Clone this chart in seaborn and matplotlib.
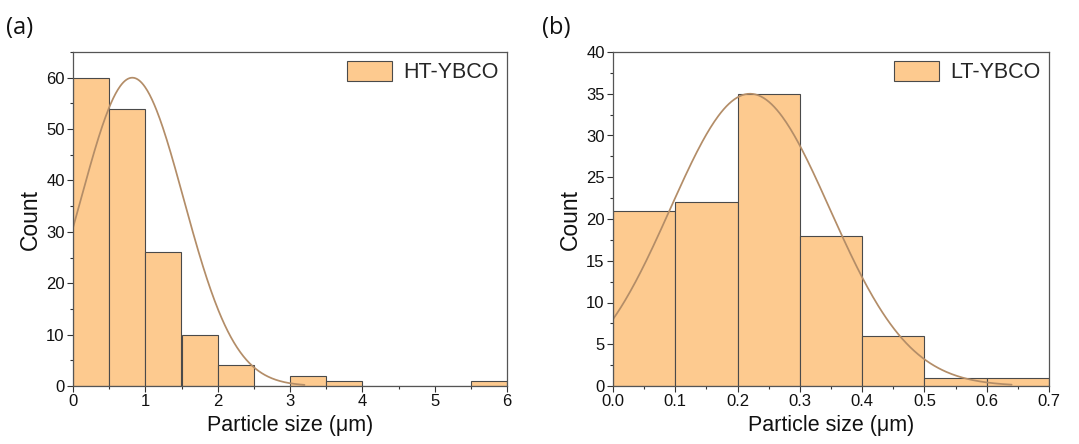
import numpy as np
import pandas as pd
import matplotlib
matplotlib.use("Agg")
import matplotlib.pyplot as plt
from matplotlib.ticker import MultipleLocator, FormatStrFormatter
import seaborn as sns

sns.set_theme(style="white")
plt.rcParams["font.family"] = ["Liberation Sans", "DejaVu Sans"]

# Particle-size histograms (bin edges in µm, counts per bin)
ht_edges = [0, 0.5, 1.0, 1.5, 2.0, 2.5, 3.0, 3.5, 4.0, 4.5, 5.0, 5.5, 6.0]
ht_counts = [60, 54, 26, 10, 4, 0, 2, 1, 0, 0, 0, 1]
lt_edges = [0.0, 0.1, 0.2, 0.3, 0.4, 0.5, 0.6, 0.7]
lt_counts = [21, 22, 35, 18, 6, 1, 1]

# Gaussian fits: amplitude, centre, width, curve extent
ht_fit = dict(amp=60, mu=0.82, sigma=0.71, xmax=3.2)
lt_fit = dict(amp=35, mu=0.22, sigma=0.128, xmax=0.64)

fill_color = "#FDCA8F"
edge_color = "#4a4a4a"
curve_color = "#B38D68"


def panel(ax, edges, counts, fit, label, tag, tag_x, xlim, ylim, xmajor,
          xminor, ymajor, yminor, xfmt):
    e = np.asarray(edges, dtype=float)
    centers = (e[:-1] + e[1:]) / 2
    df = pd.DataFrame({"size": centers, "count": counts})
    sns.histplot(data=df, x="size", weights="count", bins=list(edges), ax=ax,
                 color=fill_color, alpha=1.0, edgecolor=edge_color,
                 linewidth=0.8, label=label)
    xs = np.linspace(0, fit["xmax"], 300)
    ys = fit["amp"] * np.exp(-((xs - fit["mu"]) ** 2) / (2 * fit["sigma"] ** 2))
    sns.lineplot(x=xs, y=ys, ax=ax, color=curve_color, linewidth=1.25)

    ax.set_xlim(*xlim)
    ax.set_ylim(*ylim)
    ax.xaxis.set_major_locator(MultipleLocator(xmajor))
    ax.xaxis.set_minor_locator(MultipleLocator(xminor))
    ax.yaxis.set_major_locator(MultipleLocator(ymajor))
    ax.yaxis.set_minor_locator(MultipleLocator(yminor))
    ax.xaxis.set_major_formatter(xfmt)
    ax.tick_params(axis="both", which="major", direction="out", length=4,
                   width=0.8, color="#333333", labelsize=12, pad=2,
                   bottom=True, left=True, top=False, right=False,
                   labelcolor="#111111")
    ax.tick_params(axis="both", which="minor", direction="out", length=2.5,
                   width=0.8, color="#333333", bottom=True, left=True,
                   top=False, right=False)
    for sp in ax.spines.values():
        sp.set_color("#555555")
        sp.set_linewidth(0.9)
    ax.set_xlabel("Particle size (\u03bcm)", fontsize=15.5, labelpad=4,
                  color="#111111")
    ax.set_ylabel("Count", fontsize=16.5, labelpad=3, color="#111111")
    handles, labels = ax.get_legend_handles_labels()
    ax.legend(handles[:1], labels[:1], loc="upper right", frameon=False,
              fontsize=15.5, handlelength=2.1, handleheight=1.1,
              handletextpad=0.5, borderaxespad=0.0)
    ax.text(tag_x, 1.072, tag, transform=ax.transAxes, fontsize=17,
            va="center", ha="left", color="#111111",
            family=["Open Sans", "DejaVu Sans"])


fig = plt.figure(figsize=(10.79, 4.44), dpi=100)
ax1 = fig.add_axes([73 / 1079, 1 - 386 / 444, 434 / 1079, 334 / 444])
ax2 = fig.add_axes([613 / 1079, 1 - 386 / 444, 436 / 1079, 334 / 444])

panel(ax1, ht_edges, ht_counts, ht_fit, "HT-YBCO", "(a)", -0.155, (0, 6),
      (0, 65), 1, 0.5, 10, 5, FormatStrFormatter("%d"))
panel(ax2, lt_edges, lt_counts, lt_fit, "LT-YBCO", "(b)", -0.162, (0, 0.7),
      (0, 40), 0.1, 0.05, 5, 2.5, FormatStrFormatter("%.1f"))

fig.savefig("out.png", dpi=100, facecolor="white")
